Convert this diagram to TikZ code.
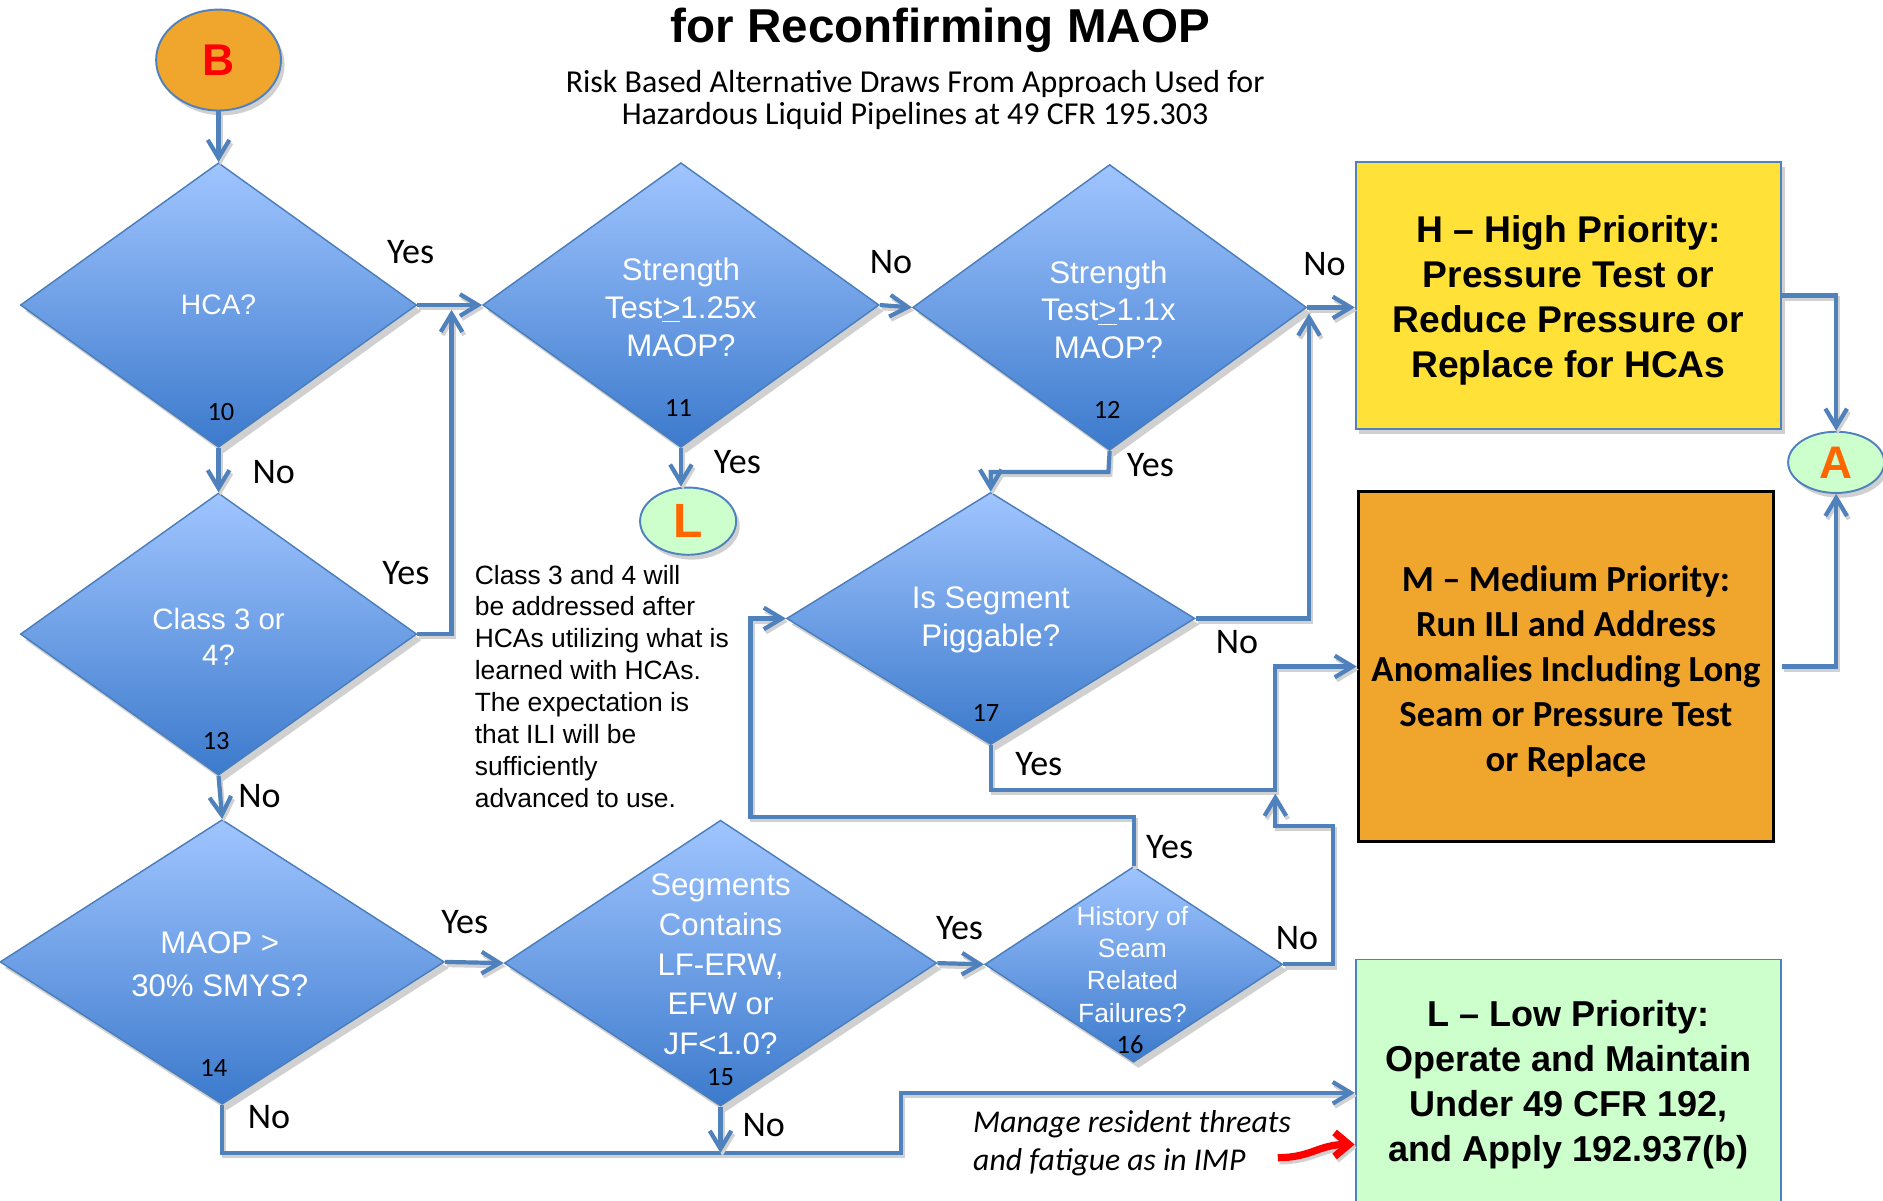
\documentclass[tikz,border=0pt]{standalone}
\usepackage{fontspec}
\setmainfont{Liberation Sans}
\newfontfamily\calib{Carlito}
\usetikzlibrary{shapes.geometric,arrows.meta,shadows,calc}
\definecolor{lblue}{RGB}{79,129,189}
\definecolor{dborder}{RGB}{74,126,187}
\definecolor{dtop}{RGB}{160,197,255}
\definecolor{dbot}{RGB}{60,122,204}
\definecolor{hfill}{RGB}{255,225,55}
\definecolor{mfill}{RGB}{240,165,45}
\definecolor{lfill}{RGB}{204,255,204}
\definecolor{letterorange}{RGB}{255,102,0}
\newcommand\setfs[2]{\fontsize{#1pt}{#2pt}\selectfont}
\begin{document}
\begin{tikzpicture}[x=0.5pt,y=-0.5pt,
  dia/.style={diamond, draw=dborder, line width=0.6pt, top color=dtop, bottom color=dbot,
    inner sep=0pt, drop shadow={shadow xshift=2pt,shadow yshift=-2.5pt,opacity=0.3,fill=black!60}},
  dtext/.style={text=white, align=center, inner sep=0pt},
  lbl/.style={font=\calib\setfs{15}{18}, inner sep=0pt},
  num/.style={font=\calib\setfs{11}{13}, inner sep=0pt},
  conn/.style={draw=lblue, line width=1.75pt, -{Straight Barb[length=7.5pt,width=9pt]},
    preaction={draw=black!18, line width=1.75pt, transform canvas={xshift=0.8pt,yshift=-1.3pt}}},
  outbox/.style={rectangle, inner sep=2pt},
  boxtext/.style={align=center, inner sep=0pt},
  letter/.style={ellipse, draw=lblue, line width=0.8pt, inner sep=0pt,
    drop shadow={shadow xshift=1.5pt,shadow yshift=-2pt,opacity=0.3,fill=black!60}}
]
\useasboundingbox (0,0) rectangle (1568,1000);
\fill[white] (0,0) rectangle (1568,1000);

% title
\node[font=\bfseries\setfs{19.8}{22}, anchor=base, inner sep=0pt] (title) at (783,35) {for Reconfirming MAOP};
\node[font=\calib\setfs{13.3}{14}, anchor=base, inner sep=0pt] (sub1) at (762,77) {Risk Based Alternative Draws From Approach Used for};
\node[font=\calib\setfs{13.3}{14}, anchor=base, inner sep=0pt] (sub2) at (762,104) {Hazardous Liquid Pipelines at 49 CFR 195.303};

% start and letter nodes
\node[letter, fill=mfill, minimum width=52pt, minimum height=42pt, font=\bfseries\setfs{18.5}{20}, text=red] (B) at (182,50) {B};
\node[letter, fill=lfill, minimum width=40pt, minimum height=28pt, font=\bfseries\setfs{20}{22}, text=letterorange] (Lc) at (573,434) {L};
\node[letter, fill=lfill, minimum width=40pt, minimum height=25.5pt, font=\bfseries\setfs{19}{21}, text=letterorange] (A) at (1529,385) {A};

% diamonds
\node[dia, minimum width=165pt, minimum height=118.5pt] (d10) at (182,254) {};
\node[dia, minimum width=165pt, minimum height=117.5pt] (d13) at (182,528) {};
\node[dia, minimum width=185pt, minimum height=118.5pt] (d14) at (185,801) {};
\node[dia, minimum width=180pt, minimum height=119pt] (d15) at (600,802) {};
\node[dia, minimum width=124pt, minimum height=81.5pt] (d16) at (944,803) {};
\node[dia, minimum width=170pt, minimum height=105pt] (d17) at (825,515) {};
\node[dia, minimum width=165pt, minimum height=118.5pt] (d11) at (567,254) {};
\node[dia, minimum width=164pt, minimum height=119pt] (d12) at (924,256) {};

% diamond texts
\node[dtext, font=\setfs{11.75}{14}] (t10) at (182,254) {HCA?};
\node[dtext, font=\setfs{12.25}{15}] (t13) at (182,530) {Class 3 or\\4?};
\node[dtext, font=\setfs{13}{18}] (t14) at (183,803) {MAOP \char62\\30\% SMYS?};
\node[dtext, font=\setfs{13}{16.5}] (t15) at (600,803) {Segments\\Contains\\LF-ERW,\\EFW or\\JF\char60 1.0?};
\node[dtext, font=\setfs{11}{13.4}] (t16) at (943,803) {History of\\Seam\\Related\\Failures?};
\node[dtext, font=\setfs{13}{16}] (t17) at (825,516) {Is Segment\\Piggable?};
\node[dtext, font=\setfs{13}{15.75}] (t11) at (567,256) {Strength\\Test\underline{\char62}1.25x\\MAOP?};
\node[dtext, font=\setfs{13}{15.75}] (t12) at (923,258) {Strength\\Test\underline{\char62}1.1x\\MAOP?};

% numbers
\node[num] (n10) at (184,343) {10};
\node[num] (n11) at (565,340) {11};
\node[num] (n12) at (922,341) {12};
\node[num] (n13) at (180,617) {13};
\node[num] (n14) at (178,889) {14};
\node[num] (n15) at (600,897) {15};
\node[num] (n16) at (941,870) {16};
\node[num] (n17) at (821,594) {17};

% outcome boxes
\node[outbox, draw=lblue, line width=0.8pt, fill=hfill, minimum width=177pt, minimum height=111pt,
  drop shadow={shadow xshift=1.5pt,shadow yshift=-2pt,opacity=0.3,fill=black!60}] (H) at (1306,246) {};
\node[boxtext, font=\bfseries\setfs{15.5}{18.75}] (Ht) at (1306,250)
  {H \textendash\ High Priority:\\Pressure Test or\\Reduce Pressure or\\Replace for HCAs};
\node[outbox, draw=black, line width=1.2pt, fill=mfill, minimum width=173pt, minimum height=146pt] (M) at (1304,555) {};
\node[boxtext, font=\calib\bfseries\setfs{15.3}{18.7}] (Mt) at (1304,559)
  {M \textendash\ Medium Priority:\\Run ILI and Address\\Anomalies Including Long\\Seam or Pressure Test\\or Replace};
\node[outbox, draw=lblue, line width=0.8pt, fill=lfill, minimum width=177pt, minimum height=101pt] (Lbox) at (1306,900) {};
\node[boxtext, font=\bfseries\setfs{15}{18.75}] (Lt) at (1306,903)
  {L \textendash\ Low Priority:\\Operate and Maintain\\Under 49 CFR 192,\\and Apply 192.937(b)};

% note texts
\node[font=\setfs{11}{13.3}, align=left, anchor=north west, inner sep=0pt] (note) at (395,470)
  {Class 3 and 4 will\\be addressed after\\HCAs utilizing what is\\learned with HCAs.\\The expectation is\\that ILI will be\\sufficiently\\advanced to use.};
\node[font=\calib\itshape\setfs{13.2}{16}, align=left, anchor=west, inner sep=0pt] (imp) at (810,952)
  {Manage resident threats\\and fatigue as in IMP};

% bend coordinates
\coordinate (j1) at (376,258);
\coordinate (j2) at (1090,261);
\coordinate (c12) at (923,393);
\coordinate (c14) at (750,960);
\coordinate (c16a) at (625,680);
\coordinate (c16b) at (1110,688);
\coordinate (c17) at (1062,658);
\coordinate (c17t) at (1062,661);
\coordinate (r0) at (1064,964);
\coordinate (r1) at (1128,953);

% connectors
\draw[conn] (B.south) -- (d10.north);
\draw[conn] (d10.east) -- (d11.west);
\draw[conn] (d13.east) -| (j1);
\draw[conn] (d10.south) -- (d13.north);
\draw[conn] (d13.south) -- (d14.north);
\draw[conn] (d14.east) -- (d15.west);
\draw[conn] (d14.south) |- (c14) |- ([yshift=-5pt]Lbox.west);
\draw[conn] (d15.south) -- (d15.south |- c14);
\draw[conn] (d15.east) -- (d16.west);
\draw[conn] (d11.east) -- (d12.west);
\draw[conn] (d11.south) -- (d11.south |- Lc.north);
\draw[conn] (d12.east) -- (d12.east -| H.west);
\draw[conn] (d12.south) -- (c12) -| (d17.north);
\draw[conn] (d17.east) -| (j2);
\draw[conn] (d17.south) |- (c17) |- (M.west);
\draw[conn] (d16.east) -| (c16b) -| (c17t);
\draw[conn] (d16.north) |- (c16a) |- (d17.west);
\draw[conn] (H.east) -| (A.north);
\draw[conn] ([xshift=3pt]M.east) -| (A.south);
\draw[draw=red, line width=3pt, -{Straight Barb[length=6pt,width=10pt]},
  preaction={draw=black!18, line width=3pt, transform canvas={xshift=0.8pt,yshift=-1.3pt}}]
  (r0) .. controls (1092,964) and (1098,953) .. (r1);

% yes / no labels
\node[lbl] (y10) at (342,210) {Yes};
\node[lbl] (y13) at (338,477) {Yes};
\node[lbl] (y14) at (387,768) {Yes};
\node[lbl] (y15) at (799,773) {Yes};
\node[lbl] (y11) at (614,385) {Yes};
\node[lbl] (y12) at (958,387) {Yes};
\node[lbl] (y17) at (865,636) {Yes};
\node[lbl] (y16) at (974,705) {Yes};
\node[lbl] (no10) at (228,393) {No};
\node[lbl] (no13) at (216,663) {No};
\node[lbl] (no14) at (224,930) {No};
\node[lbl] (no15) at (636,937) {No};
\node[lbl] (no11) at (742,218) {No};
\node[lbl] (no12) at (1103,220) {No};
\node[lbl] (no17) at (1030,535) {No};
\node[lbl] (no16) at (1080,781) {No};
\end{tikzpicture}
\end{document}
